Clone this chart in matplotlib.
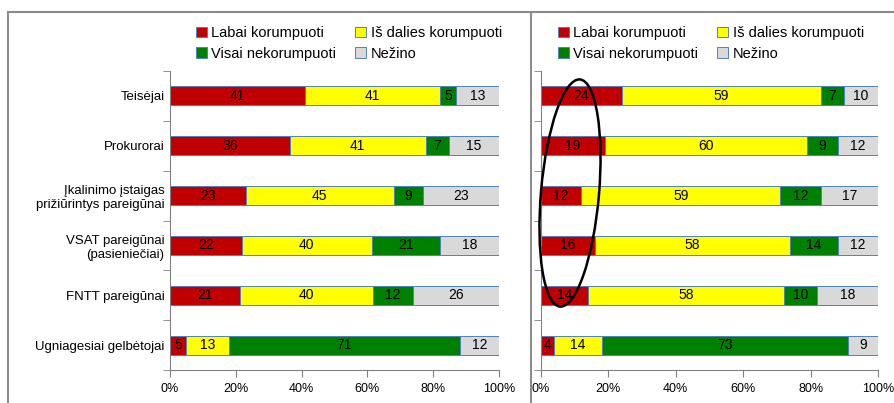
import numpy as np
import matplotlib
matplotlib.use("Agg")
import matplotlib.pyplot as plt
from matplotlib.patches import Ellipse, Patch
from matplotlib.lines import Line2D
from matplotlib.transforms import IdentityTransform

# duomenys
CATEGORIES = ['Teisėjai', 'Prokurorai', 'Įkalinimo įstaigas\nprižiūrintys pareigūnai',
              'VSAT pareigūnai\n(pasieniečiai)', 'FNTT pareigūnai', 'Ugniagesiai gelbėtojai']
SERIES = ['Labai korumpuoti', 'Iš dalies korumpuoti', 'Visai nekorumpuoti', 'Nežino']
COLORS = ['#C00000', '#FFFF00', '#008000', '#D9D9D9']

LEFT_LABAI = [41, 36, 23, 22, 21, 5]
LEFT_DALIES = [41, 41, 45, 40, 40, 13]
LEFT_VISAI = [5, 7, 9, 21, 12, 71]
LEFT_NEZINO = [13, 15, 23, 18, 26, 12]

RIGHT_LABAI = [24, 19, 12, 16, 14, 4]
RIGHT_DALIES = [59, 60, 59, 58, 58, 14]
RIGHT_VISAI = [7, 9, 12, 14, 10, 73]
RIGHT_NEZINO = [10, 12, 17, 12, 18, 9]

XTICKS = [0, 20, 40, 60, 80, 100]

FONT = ['Liberation Sans', 'DejaVu Sans']
W, H = 894, 403


def draw_panel(ax, cols, show_labels):
    data = np.array(cols, dtype=float).T
    pct = data / data.sum(axis=1, keepdims=True) * 100
    y = np.arange(len(CATEGORIES))
    left = np.zeros(len(CATEGORIES))
    for j in range(len(SERIES)):
        ax.barh(y, pct[:, j], left=left, height=0.38, color=COLORS[j],
                edgecolor='#4F81BD', linewidth=0.7)
        for i in range(len(CATEGORIES)):
            ax.text(left[i] + pct[i, j] / 2, y[i], f"{int(data[i, j])}",
                    ha='center', va='center', fontsize=10, family=FONT, color='black')
        left += pct[:, j]

    ax.set_xlim(0, 100)
    ax.set_ylim(len(CATEGORIES) - 0.5, -0.5)
    ax.set_xticks(XTICKS)
    ax.set_xticklabels([f"{t}%" for t in XTICKS], family=FONT, fontsize=9)
    ax.set_yticks(y)
    if show_labels:
        ax.set_yticklabels(CATEGORIES, family=FONT, fontsize=9.5)
    else:
        ax.set_yticklabels([])
    ax.tick_params(axis='y', length=0, pad=4)
    ax.set_yticks(np.arange(-0.5, len(CATEGORIES)), minor=True)
    ax.tick_params(axis='y', which='minor', length=5, color='#808080', direction='out')
    ax.tick_params(axis='x', length=5, color='#808080', direction='out', pad=4)
    for s in ['top', 'right']:
        ax.spines[s].set_visible(False)
    for s in ['left', 'bottom']:
        ax.spines[s].set_color('#808080')
        ax.spines[s].set_linewidth(0.8)


fig = plt.figure(figsize=(W / 100, H / 100), dpi=100)

# panelių rėmeliai
fig.add_artist(Line2D([8 / W, 8 / W], [0, 1 - 12 / H], color='#8c8c8c', lw=1.5))
fig.add_artist(Line2D([8 / W, 1], [1 - 12 / H, 1 - 12 / H], color='#8c8c8c', lw=1.5))
fig.add_artist(Line2D([531 / W, 531 / W], [0, 1 - 12 / H], color='#8c8c8c', lw=1.5))

ax1 = fig.add_axes([170 / W, 33 / H, 329 / W, 299 / H])
draw_panel(ax1, [LEFT_LABAI, LEFT_DALIES, LEFT_VISAI, LEFT_NEZINO], True)

ax2 = fig.add_axes([541 / W, 33 / H, 337 / W, 299 / H])
draw_panel(ax2, [RIGHT_LABAI, RIGHT_DALIES, RIGHT_VISAI, RIGHT_NEZINO], False)

# legenda: eilės tvarka stulpeliais
order = [0, 2, 1, 3]
handles = [Patch(facecolor=COLORS[k], edgecolor='#4F81BD', linewidth=0.7) for k in order]
labels = [SERIES[k] for k in order]
for x0 in [183 / W, 545 / W]:
    fig.legend(handles, labels, loc='upper left', bbox_to_anchor=(x0, 1 - 13 / H), ncol=2,
               frameon=False, handlelength=0.75, handleheight=0.75,
               handletextpad=0.3, columnspacing=1.3, labelspacing=0.45,
               prop={'family': FONT, 'size': 10.5})

# elipsė dešinėje (pikseliais)
fig.add_artist(Ellipse((570, H - 193), 58, 228, angle=-5,
                       fill=False, edgecolor='black', lw=1.8,
                       transform=IdentityTransform()))

fig.savefig('out.png', dpi=100)
